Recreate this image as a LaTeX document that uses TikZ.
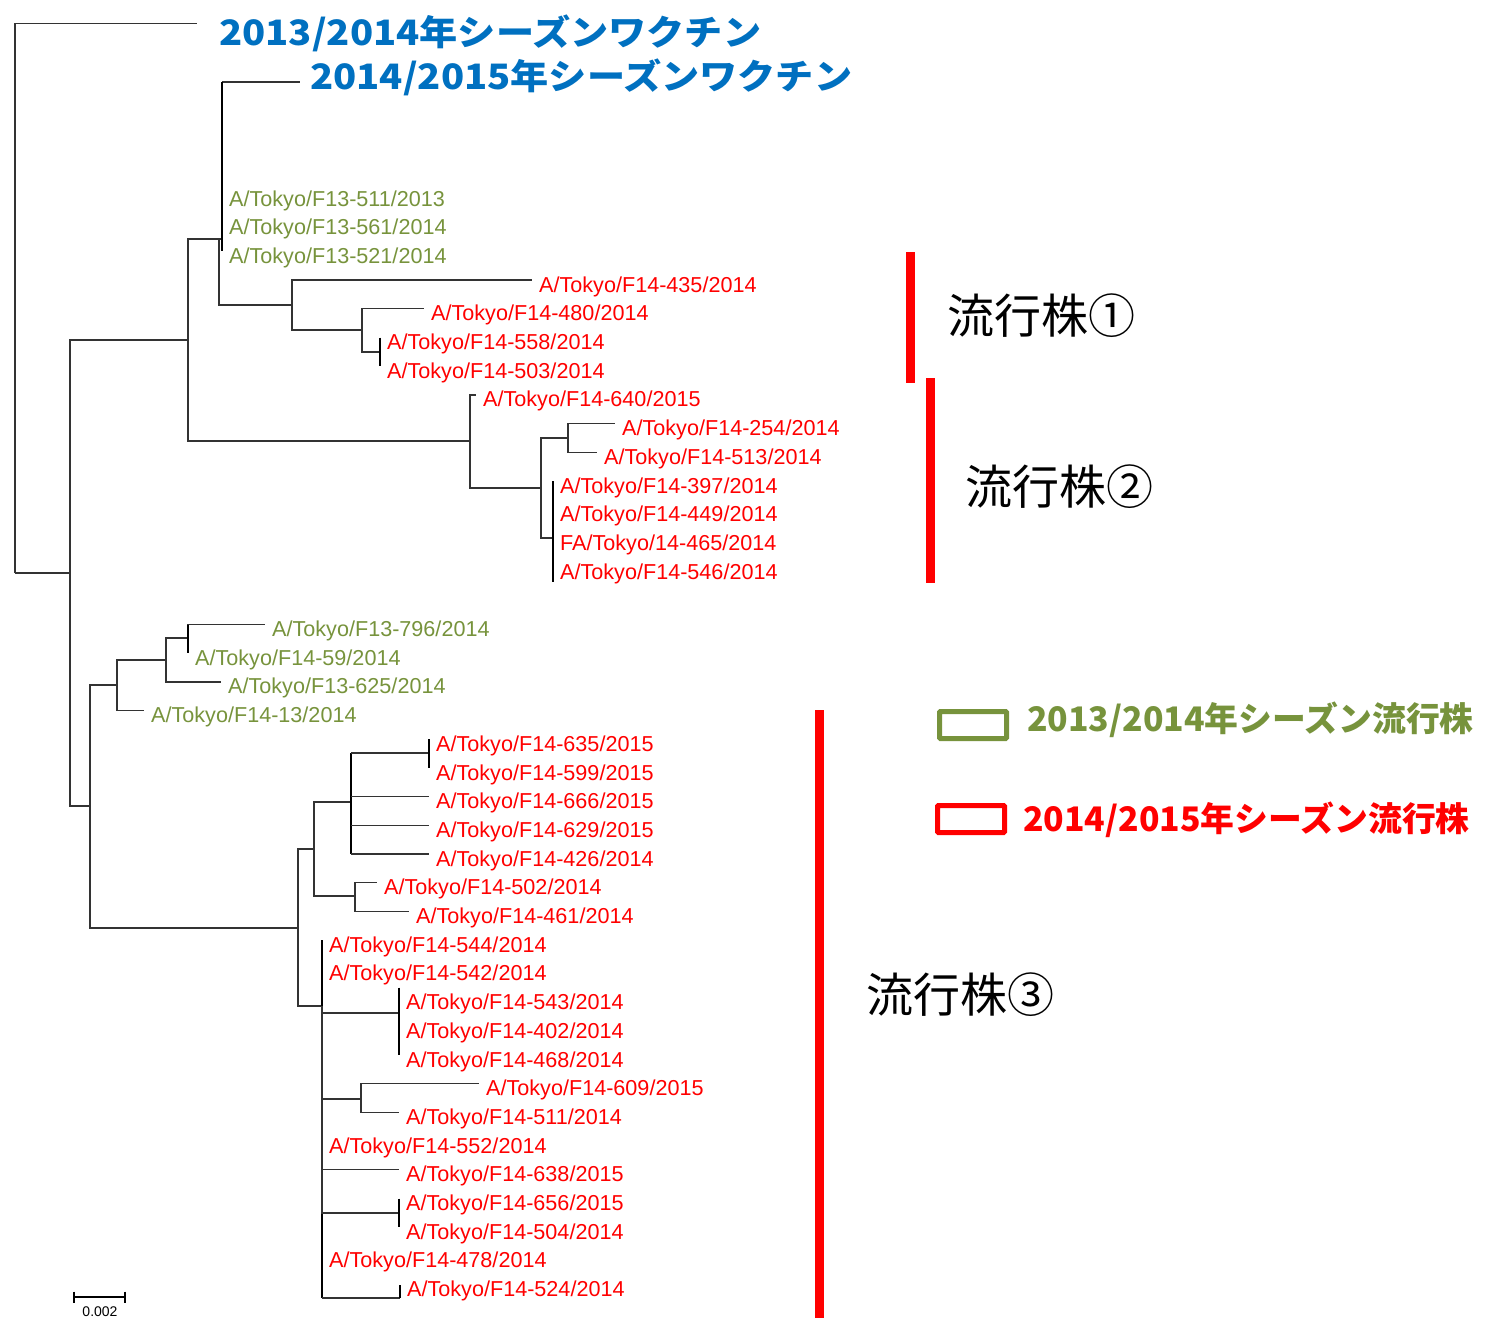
\documentclass[tikz,border=0pt]{standalone}
\usepackage{fontspec}
\setmainfont{Liberation Sans}
\newfontfamily\jpfont{Noto Sans CJK JP}
\definecolor{vacblue}{HTML}{0070C0}
\definecolor{oldgreen}{HTML}{77933C}
\definecolor{newred}{HTML}{FF0000}
\newcommand{\rowy}[1]{194+28.7*#1}
\newcommand{\widen}[1]{\scalebox{1.09}[1]{#1}}

\begin{document}
\begin{tikzpicture}[x=1pt,y=-1pt,
        branch/.style={draw=black!80,line width=1.3pt},
        poly/.style={draw=black,line width=2.6pt},
        strain/.style={anchor=west,inner xsep=7pt,inner ysep=0pt,text height=24pt,text depth=0pt,
            font=\fontsize{21.6}{24}\selectfont},
        old/.style={strain,text=oldgreen},
        new/.style={strain,text=newred},
        vaccine/.style={anchor=west,inner sep=0pt,text=vacblue,
            font=\jpfont\bfseries\fontsize{35}{40}\selectfont},
        clade/.style={anchor=west,inner sep=0pt,font=\jpfont\fontsize{47}{50}\selectfont},
        keytext/.style={anchor=west,inner sep=0pt,font=\jpfont\bfseries\fontsize{33.8}{38}\selectfont},
        keybox/.style={line width=5pt,minimum width=67pt,minimum height=27pt,inner sep=0pt,rounded corners=1pt}
    ]
    \useasboundingbox (0,0) rectangle (1486,1318);

    % strains
    \node[vaccine] (vac13) at (219,33) {\widen{2013/2014年シーズンワクチン}};
    \node[vaccine] (vac14) at (310,77.5) {\widen{2014/2015年シーズンワクチン}};
    \node[old] (s511) at (222,{\rowy{0}}) {A/Tokyo/F13-511/2013};
    \node[old] (s561) at (222,{\rowy{1}}) {A/Tokyo/F13-561/2014};
    \node[old] (s521) at (222,{\rowy{2}}) {A/Tokyo/F13-521/2014};
    \node[new] (s435) at (532,{\rowy{3}}) {A/Tokyo/F14-435/2014};
    \node[new] (s480) at (424,{\rowy{4}}) {A/Tokyo/F14-480/2014};
    \node[new] (s558) at (380,{\rowy{5}}) {A/Tokyo/F14-558/2014};
    \node[new] (s503) at (380,{\rowy{6}}) {A/Tokyo/F14-503/2014};
    \node[new] (s640) at (476,{\rowy{7}}) {A/Tokyo/F14-640/2015};
    \node[new] (s254) at (615,{\rowy{8}}) {A/Tokyo/F14-254/2014};
    \node[new] (s513) at (597,{\rowy{9}}) {A/Tokyo/F14-513/2014};
    \node[new] (s397) at (553,{\rowy{10}}) {A/Tokyo/F14-397/2014};
    \node[new] (s449) at (553,{\rowy{11}}) {A/Tokyo/F14-449/2014};
    \node[new] (s465) at (553,{\rowy{12}}) {FA/Tokyo/14-465/2014};
    \node[new] (s546) at (553,{\rowy{13}}) {A/Tokyo/F14-546/2014};
    \node[old] (s796) at (265,{\rowy{15}}) {A/Tokyo/F13-796/2014};
    \node[old] (s59) at (188,{\rowy{16}}) {A/Tokyo/F14-59/2014};
    \node[old] (s625) at (221,{\rowy{17}}) {A/Tokyo/F13-625/2014};
    \node[old] (s13) at (144,{\rowy{18}}) {A/Tokyo/F14-13/2014};
    \node[new] (s635) at (429,{\rowy{19}}) {A/Tokyo/F14-635/2015};
    \node[new] (s599) at (429,{\rowy{20}}) {A/Tokyo/F14-599/2015};
    \node[new] (s666) at (429,{\rowy{21}}) {A/Tokyo/F14-666/2015};
    \node[new] (s629) at (429,{\rowy{22}}) {A/Tokyo/F14-629/2015};
    \node[new] (s426) at (429,{\rowy{23}}) {A/Tokyo/F14-426/2014};
    \node[new] (s502) at (377,{\rowy{24}}) {A/Tokyo/F14-502/2014};
    \node[new] (s461) at (409,{\rowy{25}}) {A/Tokyo/F14-461/2014};
    \node[new] (s544) at (322,{\rowy{26}}) {A/Tokyo/F14-544/2014};
    \node[new] (s542) at (322,{\rowy{27}}) {A/Tokyo/F14-542/2014};
    \node[new] (s543) at (399,{\rowy{28}}) {A/Tokyo/F14-543/2014};
    \node[new] (s402) at (399,{\rowy{29}}) {A/Tokyo/F14-402/2014};
    \node[new] (s468) at (399,{\rowy{30}}) {A/Tokyo/F14-468/2014};
    \node[new] (s609) at (479,{\rowy{31}}) {A/Tokyo/F14-609/2015};
    \node[new] (s511b) at (399,{\rowy{32}}) {A/Tokyo/F14-511/2014};
    \node[new] (s552) at (322,{\rowy{33}}) {A/Tokyo/F14-552/2014};
    \node[new] (s638) at (399,{\rowy{34}}) {A/Tokyo/F14-638/2015};
    \node[new] (s656) at (399,{\rowy{35}}) {A/Tokyo/F14-656/2015};
    \node[new] (s504) at (399,{\rowy{36}}) {A/Tokyo/F14-504/2014};
    \node[new] (s478) at (322,{\rowy{37}}) {A/Tokyo/F14-478/2014};
    \node[new] (s524) at (400,{\rowy{38}}) {A/Tokyo/F14-524/2014};

    % inner nodes
    \coordinate (root) at (15,573);
    \coordinate (a) at (70,573);
    \coordinate (b) at (188,340);
    \coordinate (c) at (219,239);
    \coordinate (d) at (222,239);
    \coordinate (e) at (292,305);
    \coordinate (f) at (362,330);
    \coordinate (g) at (380,352);
    \coordinate (h) at (470,441);
    \coordinate (i) at (541,488);
    \coordinate (j) at (568,438);
    \coordinate (k) at (553,538);
    \coordinate (l) at (90,806);
    \coordinate (m) at (117,685);
    \coordinate (n) at (166,660);
    \coordinate (o) at (188,638);
    \coordinate (p) at (298,928);
    \coordinate (q) at (314,849);
    \coordinate (sn) at (351,802);
    \coordinate (t) at (429,753);
    \coordinate (u) at (355,896);
    \coordinate (v) at (322,1006);
    \coordinate (w) at (399,1013);
    \coordinate (xn) at (361,1099);
    \coordinate (yn) at (400,1213);
    \coordinate (zn) at (400,1298);
    \coordinate (v13end) at (197,23.3);
    \coordinate (v14end) at (300,82);

    % branches
    \draw[branch] (root) |- (v13end) (root) -- (a);
    \draw[branch] (a) |- (b) (a) |- (l);
    \draw[branch] (b) |- (c) (b) |- (h);
    \draw[branch] (c) -- (d) (c) |- (e);
    \draw[branch] (d |- v14end) -- (v14end);
    \draw[poly] (d |- v14end) -- (s521.west);
    \draw[branch] (e) |- (s435.west) (e) |- (f);
    \draw[branch] (f) |- (s480.west) (f) |- (g);
    \draw[poly] (s558.west) -- (s503.west);
    \draw[branch] (h) |- (s640.west) (h) |- (i);
    \draw[branch] (i) |- (j) (i) |- (k);
    \draw[branch] (j) |- (s254.west) (j) |- (s513.west);
    \draw[poly] (s397.west) -- ([yshift=-15pt]s546.west);
    \draw[branch] (l) |- (m) (l) |- (p);
    \draw[branch] (m) |- (n) (m) |- (s13.west);
    \draw[branch] (n) |- (o) (n) |- (s625.west);
    \draw[branch] (o) |- (s796.west);
    \draw[poly] (o |- s796.west) -- (s59.west);
    \draw[branch] (p) |- (q) (p) |- (v);
    \draw[branch] (q) |- (sn) (q) |- (u);
    \draw[poly] (sn |- t) -- (sn |- s426.west);
    \draw[branch] (sn |- t) -- (t);
    \foreach \st in {s666,s629,s426}
        \draw[branch] (sn |- \st.west) -- (\st.west);
    \draw[poly] (s635.west) -- (s599.west);
    \draw[branch] (u) |- (s502.west) (u) |- (s461.west);
    \draw[poly] (s544.west) -- (v |- zn);
    \draw[branch] (v) |- (w) (v) |- (xn) (v) |- (yn) (v |- zn) -- (zn);
    \draw[branch] (v |- s638.west) -- (s638.west);
    \draw[poly] ([yshift=10pt]s543.west) -- (s468.west);
    \draw[branch] (xn) |- (s609.west) (xn) |- (s511b.west);
    \draw[poly] (s656.west) -- (s504.west);
    \draw[poly] (zn) -- (s524.west);

    % scale
    \coordinate (sb1) at (74,1297);
    \coordinate (sb2) at (125,1297);
    \draw[line width=2pt] (sb1) -- (sb2) ([yshift=5.5pt]sb1) -- ([yshift=-5.5pt]sb1)
        ([yshift=5.5pt]sb2) -- ([yshift=-5.5pt]sb2);
    \node[font=\fontsize{14}{16}\selectfont,inner sep=0pt] (sblab) at (100,1311.5) {0.002};

    % clades
    \fill[newred] (906,252) rectangle (915,383);
    \fill[newred] (926,378) rectangle (935,583);
    \fill[newred] (815,710) rectangle (824,1318);
    \node[clade] (clade1) at (947,316) {流行株①};
    \node[clade] (clade2) at (965,487) {流行株②};
    \node[clade] (clade3) at (866,995) {流行株③};

    % key
    \node[keybox,draw=oldgreen] (key13) at (973,725) {};
    \node[keytext,text=oldgreen] (keylab13) at (1027,720) {2013/2014年シーズン流行株};
    \node[keybox,draw=newred] (key14) at (971,819) {};
    \node[keytext,text=newred] (keylab14) at (1023,820) {2014/2015年シーズン流行株};
\end{tikzpicture}
\end{document}
